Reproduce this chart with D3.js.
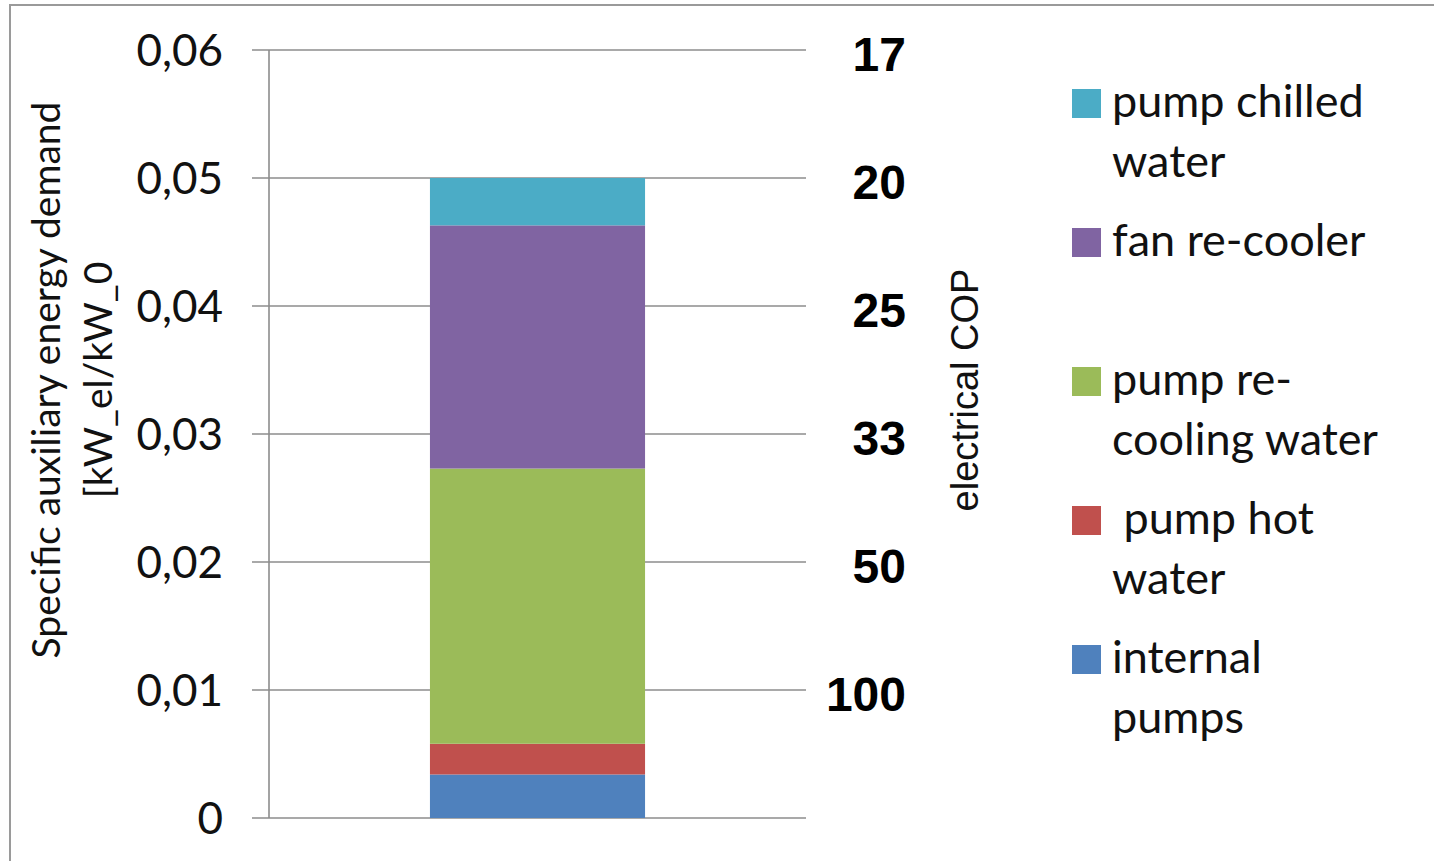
<!DOCTYPE html>
<html>
<head>
<meta charset="utf-8">
<script src="https://cdn.jsdelivr.net/npm/d3@7"></script>
<style>
  html, body { margin: 0; padding: 0; background: #fff; }
  svg { display: block; }
  text { white-space: pre; }
</style>
</head>
<body>
<script>
// Stacked auxiliary energy demand of one chiller configuration
const categories = ["config"];
const seriesNames = ["internal pumps", "pump hot water", "pump re-cooling water", "fan re-cooler", "pump chilled water"];
const seriesValues = [0.0034, 0.0024, 0.0215, 0.0190, 0.0037];
const seriesColors = ["#4F81BD", "#C0504D", "#9BBB59", "#8064A2", "#4BACC6"];
const legendLines = [
  ["pump chilled", "water"],
  ["fan re-cooler"],
  ["pump re-", "cooling water"],
  [" pump hot", "water"],
  ["internal", "pumps"]
];
const leftTicks = [0, 0.01, 0.02, 0.03, 0.04, 0.05, 0.06];
const leftTickLabels = ["0", "0,01", "0,02", "0,03", "0,04", "0,05", "0,06"];
const copTicks = [0.01, 0.02, 0.03, 0.04, 0.05, 0.06];
const copTickLabels = ["100", "50", "33", "25", "20", "17"];

const W = 1434, H = 861;
const svg = d3.select("body").append("svg").attr("width", W).attr("height", H);

// outer chart frame
svg.append("rect")
  .attr("x", 10).attr("y", 5).attr("width", 1500).attr("height", 1000)
  .attr("fill", "none").attr("stroke", "#9a9a9a").attr("stroke-width", 2);

const plot = { left: 269, right: 806, top: 50, bottom: 818 };

const y = d3.scaleLinear().domain([0, 0.06]).range([plot.bottom, plot.top]);
const x = d3.scaleBand().domain(categories).range([plot.left, plot.right]).padding(0.428);

// gridlines spanning from the left tick marks to the right edge
const gridColor = "#8c8c8c";
svg.append("g").selectAll("line").data(leftTicks).join("line")
  .attr("x1", plot.left - 17).attr("x2", plot.right)
  .attr("y1", d => y(d)).attr("y2", d => y(d))
  .attr("stroke", gridColor).attr("stroke-width", 1.6);

// left axis line
svg.append("line")
  .attr("x1", plot.left).attr("x2", plot.left)
  .attr("y1", y(0.06)).attr("y2", y(0))
  .attr("stroke", gridColor).attr("stroke-width", 1.6);

// stacked bar
const stackData = [Object.fromEntries([["cat", categories[0]], ...seriesNames.map((n, i) => [n, seriesValues[i]])])];
const stacked = d3.stack().keys(seriesNames)(stackData);
svg.append("g").selectAll("rect").data(stacked).join("rect")
  .attr("x", x(categories[0]))
  .attr("width", x.bandwidth())
  .attr("y", d => y(d[0][1]))
  .attr("height", d => y(d[0][0]) - y(d[0][1]))
  .attr("fill", (d, i) => seriesColors[i]);

// left tick labels
svg.append("g").selectAll("text").data(leftTicks).join("text")
  .attr("x", 223).attr("y", d => y(d))
  .attr("dy", "0.36em")
  .attr("text-anchor", "end")
  .attr("font-family", "Lato, 'Open Sans', sans-serif")
  .attr("font-size", 44)
  .attr("fill", "#111")
  .text((d, i) => leftTickLabels[i]);

// right COP tick labels
svg.append("g").selectAll("text").data(copTicks).join("text")
  .attr("x", 906).attr("y", d => y(d) + 4)
  .attr("dy", "0.36em")
  .attr("text-anchor", "end")
  .attr("font-family", "'Liberation Sans', Arial, sans-serif")
  .attr("font-weight", "bold")
  .attr("font-size", 48)
  .attr("fill", "#000")
  .text((d, i) => copTickLabels[i]);

// left axis title (two lines)
const leftTitle = svg.append("text")
  .attr("transform", "translate(60,380) rotate(-90)")
  .attr("text-anchor", "middle")
  .attr("font-family", "Lato, 'Open Sans', sans-serif")
  .attr("font-size", 39)
  .attr("fill", "#111");
leftTitle.append("tspan").attr("x", 0).attr("y", 0).text("Specific auxiliary energy demand");
leftTitle.append("tspan").attr("x", 0).attr("y", 52).text("[kW_el/kW_0");

// right axis title
svg.append("text")
  .attr("transform", "translate(978,390) rotate(-90)")
  .attr("text-anchor", "middle")
  .attr("font-family", "'Liberation Sans', Arial, sans-serif")
  .attr("font-size", 38)
  .attr("fill", "#111")
  .text("electrical COP");

// legend, top entry is the top segment of the stack
const legendOrder = seriesNames.map((n, i) => i).reverse();
const legend = svg.append("g").selectAll("g").data(legendOrder).join("g")
  .attr("transform", (d, k) => `translate(1072,${117 + 139 * k})`);
legend.append("rect")
  .attr("x", 0).attr("y", -28).attr("width", 29).attr("height", 29)
  .attr("fill", d => seriesColors[d]);
legend.each(function(d, k) {
  const t = d3.select(this).append("text")
    .attr("font-family", "Lato, 'Open Sans', sans-serif")
    .attr("font-size", 45)
    .attr("fill", "#111");
  legendLines[k].forEach((line, j) => {
    t.append("tspan").attr("x", 40).attr("y", j * 60).text(line);
  });
});
</script>
</body>
</html>
